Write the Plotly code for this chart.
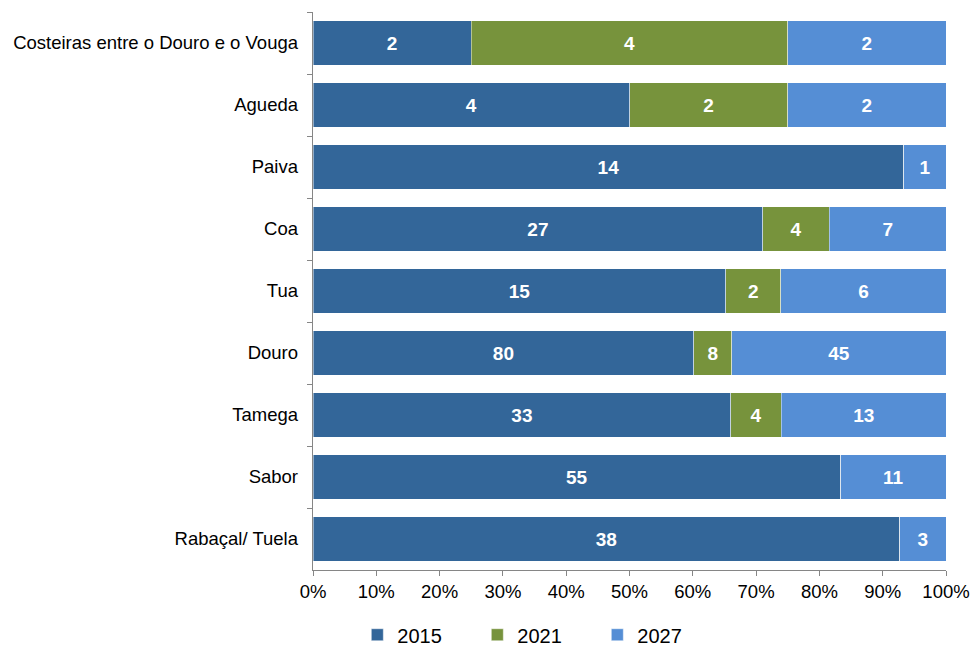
import plotly.graph_objects as go

# River basins, listed top to bottom
basins = [
    "Costeiras entre o Douro e o Vouga",
    "Agueda",
    "Paiva",
    "Coa",
    "Tua",
    "Douro",
    "Tamega",
    "Sabor",
    "Rabaçal/ Tuela",
]

# Number of water bodies per target year
y2015 = [2, 4, 14, 27, 15, 80, 33, 55, 38]
y2021 = [4, 2, 0, 4, 2, 8, 4, 0, 0]
y2027 = [2, 2, 1, 7, 6, 45, 13, 11, 3]

series = [
    ("2015", y2015, "#336699"),
    ("2021", y2021, "#77933C"),
    ("2027", y2027, "#558ED5"),
]

FONT = "Liberation Sans, Arial, sans-serif"

fig = go.Figure()
for name, vals, color in series:
    fig.add_trace(go.Bar(
        name=name,
        y=basins,
        x=vals,
        orientation="h",
        marker=dict(color=color, line=dict(color="rgba(255,255,255,0.45)", width=1)),
        text=[str(v) if v else "" for v in vals],
        textposition="inside",
        insidetextanchor="middle",
        textangle=0,
        textfont=dict(family=FONT, size=19, color="white"),
        texttemplate="<b>%{text}</b>",
        hoverinfo="skip",
    ))

fig.update_layout(
    barmode="stack",
    barnorm="percent",
    bargap=0.29,
    width=971,
    height=650,
    margin=dict(l=313, r=25, t=12, b=80, autoexpand=False),
    paper_bgcolor="white",
    plot_bgcolor="white",
    font=dict(family=FONT, size=18, color="black"),
    showlegend=True,
    legend=dict(
        orientation="h",
        x=0.07,
        xanchor="left",
        y=-0.116,
        yanchor="middle",
        font=dict(family=FONT, size=20, color="black"),
        itemwidth=30,
        entrywidth=75,
        traceorder="normal",
    ),
)

fig.update_xaxes(
    range=[0, 100],
    tickvals=[0, 10, 20, 30, 40, 50, 60, 70, 80, 90, 100],
    ticktext=[f"{v}%" for v in range(0, 101, 10)],
    showgrid=False,
    zeroline=False,
    showline=True,
    linecolor="#868686",
    linewidth=1,
    ticks="outside",
    ticklen=5,
    tickcolor="#868686",
    tickfont=dict(family=FONT, size=18.5, color="black"),
    automargin=False,
)

fig.update_yaxes(
    autorange="reversed",
    showgrid=False,
    showline=True,
    linecolor="#868686",
    linewidth=1,
    ticks="outside",
    tickson="boundaries",
    ticklen=5,
    tickcolor="#868686",
    tickfont=dict(family=FONT, size=18.5, color="black"),
    ticksuffix="  ",
    automargin=False,
)

fig.write_html("out.html")
